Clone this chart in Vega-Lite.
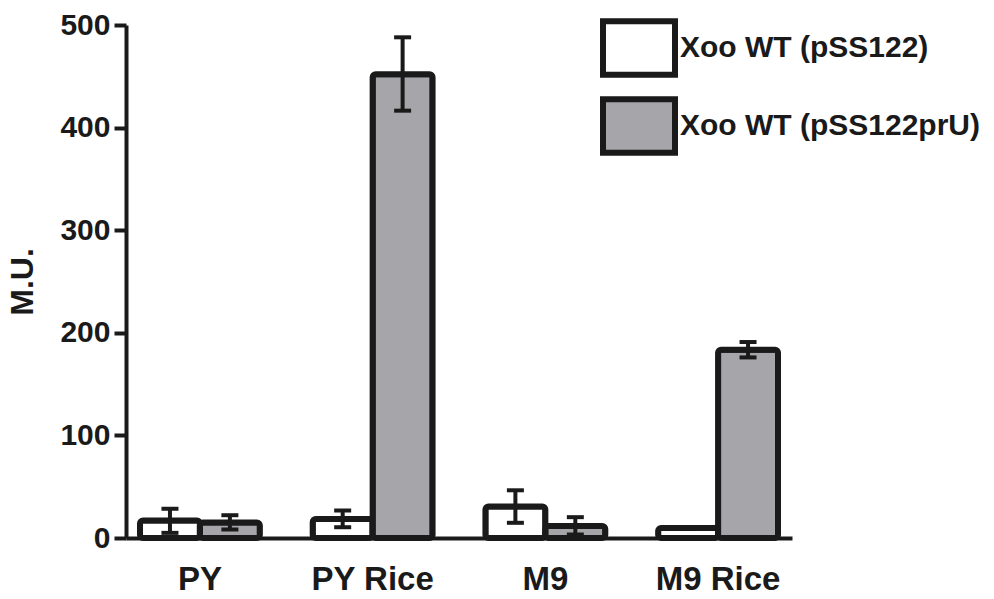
{
  "$schema": "https://vega.github.io/schema/vega-lite/v6.json",
  "autosize": "none",
  "width": 666,
  "height": 513,
  "padding": {"left": 126, "top": 25, "right": 202, "bottom": 61},
  "background": "white",
  "config": {
    "view": {"stroke": null},
    "font": "Liberation Sans",
    "axis": {
      "domainColor": "#1a1a1a",
      "domainWidth": 4,
      "tickColor": "#1a1a1a",
      "tickWidth": 4,
      "labelFont": "Liberation Sans",
      "labelFontWeight": "bold",
      "labelColor": "#1a1a1a",
      "titleFont": "Liberation Sans",
      "titleFontWeight": "bold",
      "titleColor": "#1a1a1a",
      "grid": false
    }
  },
  "data": {
    "values": [
      {"medium": "PY", "strain": "Xoo WT (pSS122)", "mean": 17, "lo": 5, "hi": 28.5},
      {"medium": "PY", "strain": "Xoo WT (pSS122prU)", "mean": 15, "lo": 8.3, "hi": 22.2},
      {"medium": "PY Rice", "strain": "Xoo WT (pSS122)", "mean": 18.6, "lo": 10.5, "hi": 26.8},
      {"medium": "PY Rice", "strain": "Xoo WT (pSS122prU)", "mean": 452, "lo": 416.5, "hi": 488},
      {"medium": "M9", "strain": "Xoo WT (pSS122)", "mean": 30.7, "lo": 14.8, "hi": 46.5},
      {"medium": "M9", "strain": "Xoo WT (pSS122prU)", "mean": 11.8, "lo": 3.4, "hi": 20.3},
      {"medium": "M9 Rice", "strain": "Xoo WT (pSS122)", "mean": 9.7, "lo": 9.7, "hi": 9.7},
      {"medium": "M9 Rice", "strain": "Xoo WT (pSS122prU)", "mean": 183.5, "lo": 176, "hi": 191}
    ]
  },
  "encoding": {
    "x": {
      "field": "medium",
      "type": "nominal",
      "sort": ["PY", "PY Rice", "M9", "M9 Rice"],
      "scale": {"paddingInner": 0.306, "paddingOuter": 0.081},
      "axis": {
        "title": null,
        "labelAngle": 0,
        "ticks": false,
        "labelFontSize": 33,
        "labelPadding": 25
      }
    },
    "xOffset": {
      "field": "strain",
      "type": "nominal",
      "sort": ["Xoo WT (pSS122)", "Xoo WT (pSS122prU)"],
      "scale": {"paddingInner": 0, "paddingOuter": 0}
    }
  },
  "layer": [
    {
      "mark": {"type": "bar", "stroke": "#1a1a1a", "strokeWidth": 6, "cornerRadius": 3, "strokeJoin": "round"},
      "encoding": {
        "y": {
          "field": "mean",
          "type": "quantitative",
          "scale": {"domain": [0, 500], "nice": false},
          "axis": {
            "title": "M.U.",
            "titleFontSize": 32,
            "titlePadding": 20,
            "values": [0, 100, 200, 300, 400, 500],
            "labelFontSize": 30,
            "tickSize": 12,
            "labelPadding": 4
          }
        },
        "fill": {
          "field": "strain",
          "type": "nominal",
          "scale": {"domain": ["Xoo WT (pSS122)", "Xoo WT (pSS122prU)"], "range": ["white", "#a6a5aa"]},
          "legend": {
            "title": null,
            "orient": "none",
            "legendX": 474,
            "legendY": -16,
            "padding": 0,
            "symbolType": "M-1,-0.74H1V0.74H-1Z",
            "symbolSize": 5184,
            "symbolStrokeWidth": 6,
            "symbolStrokeColor": "#1a1a1a",
            "symbolOpacity": 1,
            "labelFont": "Liberation Sans",
            "labelFontWeight": "bold",
            "labelFontSize": 30,
            "labelColor": "#1a1a1a",
            "labelOffset": 2,
            "labelLimit": 400,
            "rowPadding": -2
          }
        }
      }
    },
    {
      "mark": {"type": "rule", "stroke": "#1a1a1a", "strokeWidth": 4},
      "encoding": {
        "y": {"field": "lo", "type": "quantitative"},
        "y2": {"field": "hi"}
      }
    },
    {
      "mark": {"type": "tick", "orient": "horizontal", "color": "#1a1a1a", "size": 17, "thickness": 4, "opacity": 1},
      "encoding": {
        "y": {"field": "lo", "type": "quantitative"}
      }
    },
    {
      "mark": {"type": "tick", "orient": "horizontal", "color": "#1a1a1a", "size": 17, "thickness": 4, "opacity": 1},
      "encoding": {
        "y": {"field": "hi", "type": "quantitative"}
      }
    }
  ]
}
